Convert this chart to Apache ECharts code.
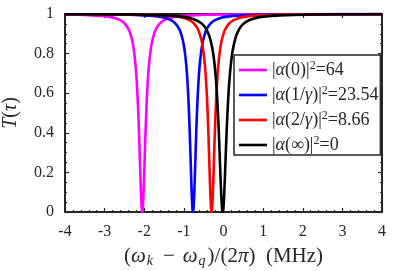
<!DOCTYPE html>
<html><head><meta charset="utf-8">
<script src="https://cdn.jsdelivr.net/npm/echarts@6/dist/echarts.min.js"></script>
<style>html,body{margin:0;padding:0;background:#fff}#c{width:397px;height:271px}</style>
</head><body><div id="c"></div>
<script>
// x ticks, y ticks
const xTicks = [-4,-3,-2,-1,0,1,2,3,4];
const yTicks = [0,0.2,0.4,0.6,0.8,1];
const legendNames = ['a0','a1','a2','ainf'];
// [detuning (MHz), T]
const magenta = [[-4,0.9975],[-3.65,0.996],[-3.40,0.9945],[-3.15,0.992],[-2.95,0.988],[-2.80,0.983],[-2.65,0.973],[-2.55,0.962],[-2.47,0.946],[-2.40,0.925],[-2.35,0.9],[-2.30,0.862],[-2.26,0.815],[-2.22,0.743],[-2.195,0.678],[-2.17,0.59],[-2.15,0.5],[-2.13,0.39],[-2.115,0.297],[-2.10,0.2],[-2.085,0.109],[-2.07,0.0385],[-2.06,0.0099],[-2.05,0],
  [-2.04,0.0099],[-2.03,0.0385],[-2.015,0.109],[-2.00,0.2],[-1.985,0.297],[-1.97,0.39],[-1.95,0.5],[-1.93,0.59],[-1.905,0.678],[-1.88,0.743],[-1.84,0.815],[-1.80,0.862],[-1.75,0.9],[-1.70,0.925],[-1.63,0.946],[-1.55,0.962],[-1.45,0.973],[-1.30,0.983],[-1.15,0.988],[-0.95,0.992],[-0.70,0.9945],[-0.45,0.996],[-0.05,0.9975],[0.45,0.998],[1.5,0.9992],[4,0.9998]];
const blue = [[-4,0.9991],[-3.27,0.998],[-2.77,0.9975],[-2.37,0.996],[-2.12,0.9945],[-1.87,0.992],[-1.67,0.988],[-1.52,0.983],[-1.37,0.973],[-1.27,0.962],[-1.19,0.946],[-1.12,0.925],[-1.07,0.9],[-1.02,0.862],[-0.98,0.815],[-0.94,0.743],[-0.915,0.678],[-0.89,0.59],[-0.87,0.5],[-0.85,0.39],[-0.835,0.297],[-0.82,0.2],[-0.805,0.109],[-0.79,0.0385],[-0.78,0.0099],[-0.77,0],
  [-0.76,0.0099],[-0.75,0.0385],[-0.735,0.109],[-0.72,0.2],[-0.705,0.297],[-0.69,0.39],[-0.67,0.5],[-0.65,0.59],[-0.625,0.678],[-0.60,0.743],[-0.56,0.815],[-0.52,0.862],[-0.47,0.9],[-0.42,0.925],[-0.35,0.946],[-0.27,0.962],[-0.17,0.973],[-0.02,0.983],[0.13,0.988],[0.33,0.992],[0.58,0.9945],[0.83,0.996],[1.23,0.9975],[1.73,0.998],[2.73,0.9992],[4,0.9996]];
const red = [[-4,0.9993],[-2.80,0.998],[-2.30,0.9975],[-1.90,0.996],[-1.65,0.9945],[-1.40,0.992],[-1.20,0.988],[-1.05,0.983],[-0.90,0.973],[-0.80,0.962],[-0.72,0.946],[-0.65,0.925],[-0.60,0.9],[-0.55,0.862],[-0.51,0.815],[-0.47,0.743],[-0.445,0.678],[-0.42,0.59],[-0.40,0.5],[-0.38,0.39],[-0.365,0.297],[-0.35,0.2],[-0.335,0.109],[-0.32,0.0385],[-0.31,0.0099],[-0.30,0],
  [-0.29,0.0099],[-0.28,0.0385],[-0.265,0.109],[-0.25,0.2],[-0.235,0.297],[-0.22,0.39],[-0.20,0.5],[-0.18,0.59],[-0.155,0.678],[-0.13,0.743],[-0.09,0.815],[-0.05,0.862],[0.00,0.9],[0.05,0.925],[0.12,0.946],[0.20,0.962],[0.30,0.973],[0.45,0.983],[0.60,0.988],[0.80,0.992],[1.05,0.9945],[1.30,0.996],[1.70,0.9975],[2.20,0.998],[3.2,0.9992],[4,0.9994]];
const black = [[-4,0.9991],[-2.52,0.998],[-2.02,0.9964],[-1.62,0.994],[-1.37,0.992],[-1.12,0.988],[-0.92,0.983],[-0.77,0.975],[-0.62,0.962],[-0.52,0.946],[-0.44,0.925],[-0.37,0.895],[-0.32,0.862],[-0.27,0.813],[-0.23,0.754],[-0.19,0.667],[-0.165,0.594],[-0.14,0.5],[-0.12,0.41],[-0.10,0.308],[-0.085,0.227],[-0.07,0.148],[-0.055,0.078],[-0.04,0.027],[-0.03,0.0069],[-0.02,0],
  [-0.01,0.0069],[0.00,0.027],[0.015,0.078],[0.03,0.148],[0.045,0.227],[0.06,0.308],[0.08,0.41],[0.10,0.5],[0.125,0.594],[0.15,0.667],[0.19,0.754],[0.23,0.813],[0.28,0.862],[0.33,0.895],[0.40,0.925],[0.48,0.946],[0.58,0.962],[0.73,0.975],[0.88,0.983],[1.08,0.988],[1.33,0.992],[1.58,0.994],[1.98,0.9964],[2.48,0.998],[3.5,0.9991],[4,0.9993]];

const F = '"Liberation Serif", "DejaVu Serif", serif';
const AX = '#262626';
const rich = {
  i: {fontFamily: F, fontStyle: 'italic', fontSize: 21, color: AX},
  n: {fontFamily: F, fontSize: 21, color: AX},
  m: {fontFamily: F, fontSize: 21, color: AX, padding: [0,8,0,8]},
  sub: {fontFamily: F, fontStyle: 'italic', fontSize: 14, color: AX, padding: [10,2,0,1]},
  yi: {fontFamily: F, fontStyle: 'italic', fontSize: 20, color: AX},
  yn: {fontFamily: F, fontSize: 20, color: AX},
  li: {fontFamily: F, fontStyle: 'italic', fontSize: 18, color: AX, lineHeight: 20},
  ln: {fontFamily: F, fontSize: 18, color: AX, lineHeight: 20},
  ls: {fontFamily: F, fontSize: 12, color: AX, lineHeight: 12, padding: [0,0,8,0]}
};
const legendLabels = {
  a0: '{ln||}{li|α}{ln|(0)|}{ls|2}{ln|=64}',
  a1: '{ln||}{li|α}{ln|(1/}{li|γ}{ln|)|}{ls|2}{ln|=23.54}',
  a2: '{ln||}{li|α}{ln|(2/}{li|γ}{ln|)|}{ls|2}{ln|=8.66}',
  ainf: '{ln||}{li|α}{ln|(∞)|}{ls|2}{ln|=0}'
};
function mkSeries(name, data, color){
  return {name, type:'line', data, symbol:'none', smooth:0.2,
    lineStyle:{color, width:2.6}, itemStyle:{color}, clip:true};
}
const baseAxis = {
  axisLine:{show:true, onZero:false, lineStyle:{color:AX, width:2}},
  axisTick:{show:true, inside:true, length:4, lineStyle:{color:AX, width:1.2}},
  splitLine:{show:false}
};
const xMinor = {show:true, splitNumber:5, length:2, lineStyle:{color:AX, width:1}};
const yMinor = {show:true, splitNumber:4, length:2, lineStyle:{color:AX, width:1}};
const chart = echarts.init(document.getElementById('c'), null, {renderer:'canvas'});
chart.setOption({
  animation:false,
  backgroundColor:'#fff',
  grid:{left:65, right:15, top:14, bottom:59, containLabel:false, outerBoundsMode:'none'},
  xAxis:[
    Object.assign({}, baseAxis, {type:'value', min:xTicks[0], max:xTicks[xTicks.length-1], interval:1,
      minorTick:xMinor,
      axisLabel:{fontFamily:F, fontSize:16, color:AX, margin:12},
      name:'{n|(}{i|ω}{sub|k}{m|−}{i|ω}{sub|q}{n|)/(2}{i|π}{n|)  (MHz)}', nameLocation:'middle', nameGap:32,
      nameTextStyle:{fontFamily:F, fontSize:21, color:AX, rich}}),
    Object.assign({}, baseAxis, {type:'value', position:'top', min:xTicks[0], max:xTicks[xTicks.length-1], interval:1,
      minorTick:xMinor, axisLabel:{show:false}})
  ],
  yAxis:[
    Object.assign({}, baseAxis, {type:'value', min:yTicks[0], max:yTicks[yTicks.length-1], interval:0.2,
      minorTick:yMinor,
      axisLabel:{fontFamily:F, fontSize:16, color:AX, margin:11},
      name:'{yi|T}{yn|(}{yi|τ}{yn|)}', nameLocation:'middle', nameGap:44, nameRotate:90,
      nameTextStyle:{fontFamily:F, fontSize:20, color:AX, rich}}),
    Object.assign({}, baseAxis, {type:'value', position:'right', min:yTicks[0], max:yTicks[yTicks.length-1], interval:0.2,
      minorTick:yMinor, axisLabel:{show:false}})
  ],
  legend:{
    data:legendNames, orient:'vertical', left:234, top:55,
    backgroundColor:'#fff', borderColor:AX, borderWidth:1.5, borderRadius:0,
    padding:[5,2,0,5], itemWidth:28, itemHeight:14, itemGap:5,
    icon:'path://M0,0 L28,0 L28,2.6 L0,2.6 Z',
    formatter: n => legendLabels[n],
    textStyle:{fontFamily:F, fontSize:18, color:AX, rich}
  },
  series:[
    mkSeries('a0', magenta, '#ff00ff'),
    mkSeries('a1', blue, '#0000ff'),
    mkSeries('a2', red, '#ff0000'),
    mkSeries('ainf', black, '#000000')
  ]
});
</script></body></html>
